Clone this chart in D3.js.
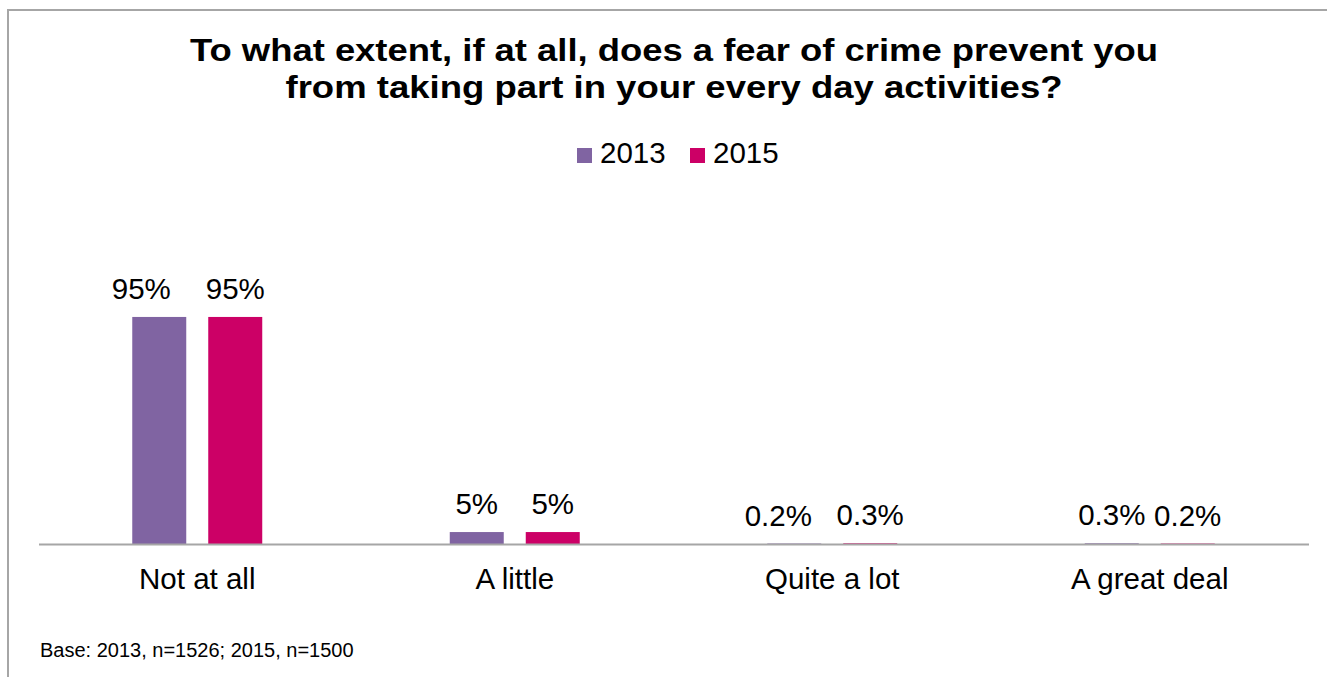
<!DOCTYPE html>
<html>
<head>
<meta charset="utf-8">
<script src="https://cdn.jsdelivr.net/npm/d3@7"></script>
<style>
  html, body { margin: 0; padding: 0; background: #fff; }
  svg { display: block; }
  text { font-family: "Liberation Sans", Arial, sans-serif; fill: #000; }
</style>
</head>
<body>
<svg id="chart" width="1327" height="677"></svg>
<script>
// Survey answers and the two waves of the survey
const categories = ["Not at all", "A little", "Quite a lot", "A great deal"];
const years = ["2013", "2015"];
const values2013 = [95, 5, 0.2, 0.3];
const values2015 = [95, 5, 0.3, 0.2];
const yearColors = ["#8064A2", "#CC0066"];
const titleLines = [
  "To what extent, if at all, does a fear of crime prevent you",
  "from taking part in your every day activities?"
];
const baseNote = "Base: 2013, n=1526; 2015, n=1500";

const seriesValues = [values2013, values2015];
const rows = categories.map((c, i) => ({
  category: c,
  bars: years.map((y, j) => ({ category: c, year: y, value: seriesValues[j][i], color: yearColors[j] }))
}));

// A couple of value labels were dragged sideways in the source layout
const labelNudge = { "Not at all|2013": -18, "Quite a lot|2013": -16 };

const svg = d3.select("#chart");

// Frame around the chart area
svg.append("rect")
  .attr("x", 8).attr("y", 10)
  .attr("width", 1400).attr("height", 800)
  .attr("fill", "none")
  .attr("stroke", "#a6a6a6")
  .attr("stroke-width", 2);

// Title, two centred bold lines
const title = svg.append("g");
const titleWidths = [968, 777];
title.selectAll("text")
  .data(titleLines)
  .join("text")
  .attr("x", 674)
  .attr("y", (d, i) => 61 + i * 37)
  .attr("text-anchor", "middle")
  .attr("font-size", 32)
  .attr("font-weight", "bold")
  .attr("textLength", (d, i) => titleWidths[i])
  .attr("lengthAdjust", "spacingAndGlyphs")
  .text(d => d);

// Legend
const legend = svg.append("g");
const legendX = [577, 690];
years.forEach((y, j) => {
  legend.append("rect")
    .attr("x", legendX[j]).attr("y", 148)
    .attr("width", 15).attr("height", 15)
    .attr("fill", yearColors[j]);
  legend.append("text")
    .attr("x", legendX[j] + 23).attr("y", 163)
    .attr("font-size", 29.5)
    .text(y);
});

// Scales
const x0 = d3.scaleBand()
  .domain(categories)
  .range([38.5, 1308.5]);

const x1 = d3.scaleBand()
  .domain(years)
  .range([0, x0.bandwidth()])
  .paddingInner(0.2895)
  .paddingOuter(1.2336);

const y = d3.scaleLinear()
  .domain([0, 100])
  .range([544, 305]);

const fmt = v => (v < 1 ? v.toFixed(1) : v.toFixed(0)) + "%";

// Bars and value labels
const groups = svg.append("g")
  .selectAll("g")
  .data(rows)
  .join("g")
  .attr("transform", d => `translate(${x0(d.category)},0)`);

groups.selectAll("rect")
  .data(d => d.bars)
  .join("rect")
  .attr("x", d => x1(d.year))
  .attr("y", d => y(d.value))
  .attr("width", x1.bandwidth())
  .attr("height", d => y(0) - y(d.value))
  .attr("fill", d => d.color);

groups.selectAll("text")
  .data(d => d.bars)
  .join("text")
  .attr("x", d => x1(d.year) + x1.bandwidth() / 2 + (labelNudge[d.category + "|" + d.year] || 0))
  .attr("y", d => y(d.value) - 18)
  .attr("text-anchor", "middle")
  .attr("font-size", 29.5)
  .text(d => fmt(d.value));

// Category axis
const xAxis = d3.axisBottom(x0).tickSize(0).tickPadding(0);
const axisG = svg.append("g")
  .attr("transform", `translate(0,${y(0)})`)
  .call(xAxis);
axisG.select(".domain")
  .attr("stroke", "#a6a6a6")
  .attr("stroke-width", 2);
axisG.selectAll(".tick text")
  .attr("font-size", 29.5)
  .attr("font-family", "\"Liberation Sans\", Arial, sans-serif")
  .attr("fill", "#000")
  .attr("dy", 0)
  .attr("y", 45);

// Base note
svg.append("text")
  .attr("x", 40).attr("y", 657)
  .attr("font-size", 20)
  .text(baseNote);
</script>
</body>
</html>
